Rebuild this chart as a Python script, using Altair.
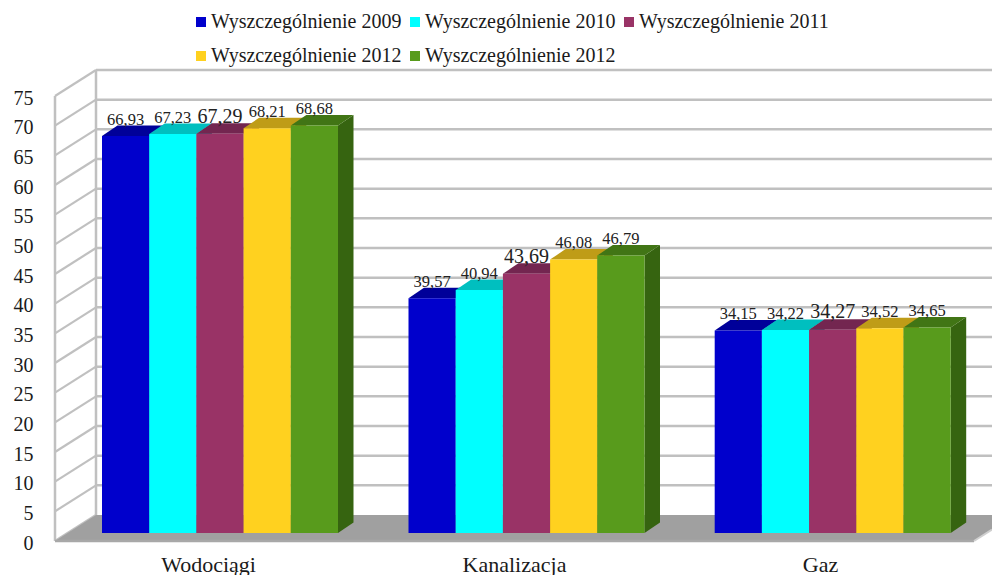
import altair as alt
import pandas as pd

# ---- values ----
categories = ["Wodociągi", "Kanalizacja", "Gaz"]
series_keys = ["2009", "2010", "2011", "2012", "2012b"]
v_wodociagi = [66.93, 67.23, 67.29, 68.21, 68.68]
v_kanalizacja = [39.57, 40.94, 43.69, 46.08, 46.79]
v_gaz = [34.15, 34.22, 34.27, 34.52, 34.65]
y_ticks = list(range(0, 80, 5))

# ---- styles ----
front_colors = ["#0000CC", "#00FFFF", "#993366", "#FFD11F", "#589B1C"]
top_colors = ["#000099", "#00BFBF", "#732650", "#BF9C17", "#417515"]
side_colors = ["#00007A", "#009999", "#5C1F40", "#997D12", "#366410"]
GRID = "#C0C0C0"
FLOOR = "#A0A0A0"
SERIF = "Liberation Serif"

# ---- layout (x in page pixels, y in chart units) ----
PX = 75 / 445.0
LEFT, RIGHT, TOP_PX, BOTTOM_PX = 55, 992, 8, 541
H = BOTTOM_PX - TOP_PX
YMAX = H * PX
WALL_DX, WALL_RISE = 41, 26 * PX
BAR_W, BAR_DX, BAR_RISE, BAR_BASE = 47.2, 15.5, 10.5 * PX, 8 * PX
GROUP_X = [102, 408.5, 714.7]
LABEL_X = [208, 514, 820]
FLOOR_W = 919
LABEL_GAP = 0.7 * PX

xs = alt.Scale(domain=[LEFT, RIGHT], nice=False, zero=False)
ys = alt.Scale(domain=[0, YMAX], nice=False, zero=False)

x_axis = alt.Axis(values=LABEL_X, domain=False, ticks=False, grid=False, labelFont=SERIF,
                  labelFontSize=22, labelColor="#1a1a1a", labelPadding=13, labelOverlap=False,
                  labelFlush=False, labelBound=False, title=None,
                  labelExpr="['" + "','".join(categories) + "'][round(datum.index*2)]")
y_axis = alt.Axis(values=y_ticks, domain=False, ticks=False, grid=False, labelFont=SERIF,
                  labelFontSize=20, labelColor="#1a1a1a", labelPadding=22, labelOffset=2,
                  labelOverlap=False, labelFlush=False, labelBound=False, format="d", title=None)


def X():
    return alt.X("x:Q", scale=xs, axis=x_axis)


def Y():
    return alt.Y("y:Q", scale=ys, axis=y_axis)


front, face, labels = [], [], []
for c, (vals, x0) in enumerate(zip([v_wodociagi, v_kanalizacja, v_gaz], GROUP_X)):
    for s, v in enumerate(vals):
        l = x0 + s * BAR_W
        r = l + BAR_W
        t = v + BAR_BASE
        front.append(dict(x=l, x2=r, y=BAR_BASE, y2=t, series=series_keys[s]))
        pid = f"{c}-{s}"
        for px, a, b in [(r, BAR_BASE, t), (r + BAR_DX, BAR_BASE + BAR_RISE, t + BAR_RISE)]:
            face.append(dict(kind="side", id=pid, x=px, y=a, y2=b, fill=side_colors[s], n=s))
        for px, a, b in [(l, t, t), (l + BAR_DX, t, t + BAR_RISE), (r, t, t + BAR_RISE),
                         (r + BAR_DX, t + BAR_RISE, t + BAR_RISE)]:
            face.append(dict(kind="top", id=pid, x=px, y=a, y2=b, fill=top_colors[s], n=s))
        labels.append(dict(x=(l + r) / 2, y=t + BAR_RISE + LABEL_GAP,
                           text=f"{v:.2f}".replace(".", ","), fs=20 if s == 2 else 16.5))

face_df = pd.DataFrame(face)
area = alt.Chart(face_df).mark_area(orient="vertical").encode(
    x=X(), y=Y(), y2="y2:Q",
    fill=alt.Fill("fill:N", scale=None), detail="id:N")

# walls
back_x = LEFT + WALL_DX
wall_lines = []
for v in y_ticks:
    wall_lines += [dict(v=v, x=LEFT, y=v), dict(v=v, x=back_x, y=v + WALL_RISE)]
diag = alt.Chart(pd.DataFrame(wall_lines)).mark_line(color=GRID, strokeWidth=2.2).encode(
    x=X(), y=Y(), detail="v:N")
back_rules = alt.Chart(pd.DataFrame(
    [dict(x=back_x, x2=RIGHT, y=v + WALL_RISE) for v in y_ticks if v > 0]
)).mark_rule(color=GRID, strokeWidth=2.5).encode(x=X(), x2="x2:Q", y=Y())
vert_rules = alt.Chart(pd.DataFrame([
    dict(x=LEFT, y=0, y2=75),
    dict(x=back_x, y=WALL_RISE, y2=75 + WALL_RISE),
])).mark_rule(color=GRID, strokeWidth=2.5).encode(x=X(), y=Y(), y2="y2:Q")

# floor
fr = LEFT + FLOOR_W
floor = alt.Chart(pd.DataFrame([
    dict(x=LEFT, y=0, y2=0), dict(x=back_x, y=0, y2=WALL_RISE),
    dict(x=fr, y=0, y2=WALL_RISE), dict(x=RIGHT, y=(RIGHT - fr) / WALL_DX * WALL_RISE, y2=WALL_RISE),
])).mark_area(orient="vertical", color=FLOOR).encode(x=X(), y=Y(), y2="y2:Q")
floor_edge = alt.Chart(pd.DataFrame([dict(x=LEFT, y=0), dict(x=fr, y=0)])).mark_line(
    color="#A8A8A8", strokeWidth=2.5).encode(x=X(), y=Y())
floor_rim = alt.Chart(pd.DataFrame([
    dict(x=fr, y=0), dict(x=RIGHT, y=(RIGHT - fr) / WALL_DX * WALL_RISE)
])).mark_line(color="#CFCFCF", strokeWidth=2).encode(x=X(), y=Y())

# bars' front faces carry the legend
bars = alt.Chart(pd.DataFrame(front)).mark_rect().encode(
    x=X(), x2="x2:Q", y=Y(), y2="y2:Q",
    color=alt.Color("series:N", scale=alt.Scale(domain=series_keys, range=front_colors),
                    sort=series_keys,
                    legend=alt.Legend(
                        orient="none", legendX=136, legendY=4, columns=3, title=None,
                        direction="horizontal", labelLimit=400,
                        symbolType="square", symbolSize=100, symbolStrokeWidth=0,
                        labelFont=SERIF, labelFontSize=20, labelColor="#1a1a1a", labelOffset=0,
                        columnPadding=3, rowPadding=14, padding=0,
                        labelExpr="'Wyszczególnienie ' + slice(datum.label, 0, 4)")))

text = alt.Chart(pd.DataFrame(labels)).mark_text(
    font=SERIF, color="#222222", baseline="alphabetic", align="center").encode(
    x=X(), y=Y(), text="text:N", size=alt.Size("fs:Q", scale=None))

chart = alt.layer(vert_rules, back_rules, diag, floor, floor_edge, floor_rim,
                  area.transform_filter("datum.kind=='side'"),
                  area.transform_filter("datum.kind=='top'"),
                  bars, text).properties(
    width=RIGHT - LEFT, height=H,
    autosize=alt.AutoSizeParams(type="none"),
    padding={"left": LEFT - 8, "top": TOP_PX - 8, "right": 0, "bottom": 34},
    background="white",
).configure_view(stroke=None)

chart.save("out.html", embed_options={"renderer": "svg", "actions": False})
